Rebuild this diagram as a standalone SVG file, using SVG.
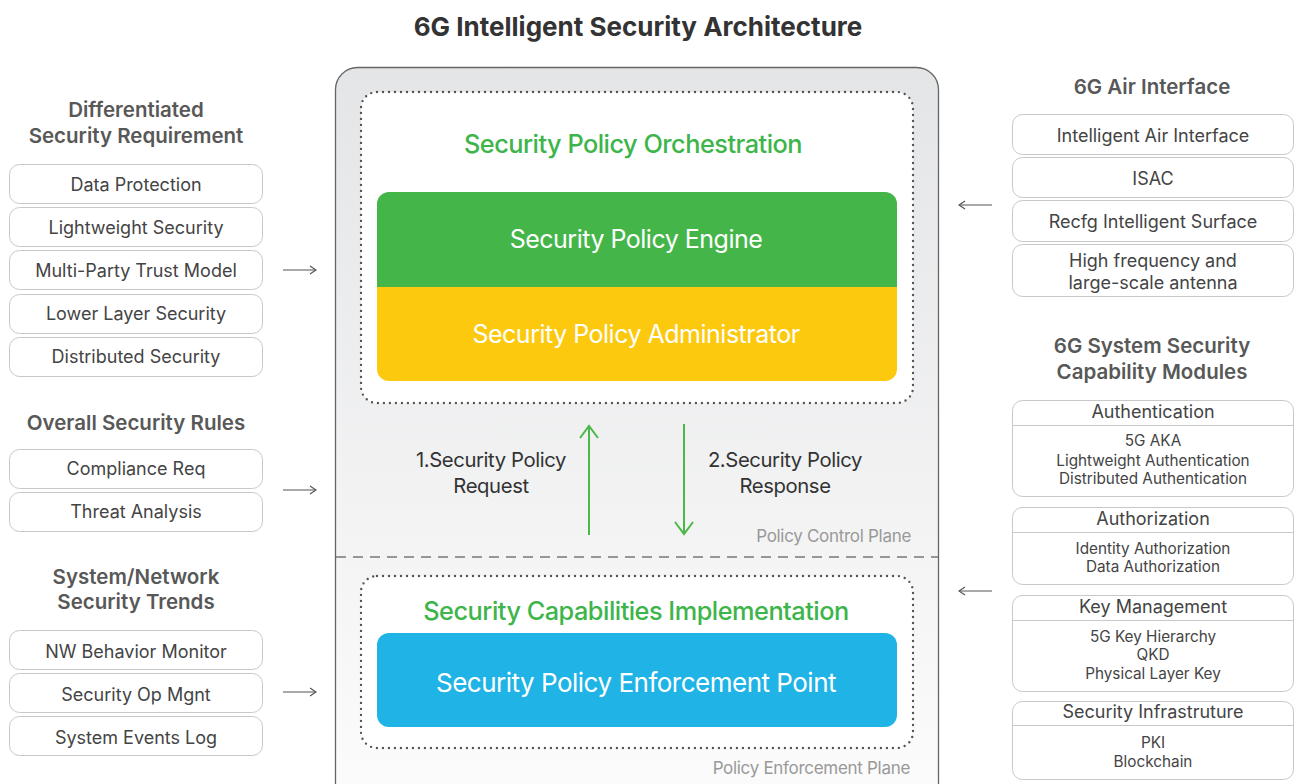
<svg xmlns="http://www.w3.org/2000/svg" width="1297" height="784" viewBox="0 0 1297 784">
<defs>
<linearGradient id="bg" x1="0" y1="0" x2="0" y2="1">
<stop offset="0" stop-color="#e4e5e7"/>
<stop offset="1" stop-color="#fcfcfc"/>
</linearGradient>
<marker id="ga" viewBox="0 0 20 20" refX="18" refY="10" markerWidth="20" markerHeight="20" markerUnits="userSpaceOnUse" orient="auto">
<path d="M6,1 L18,10 L6,19" fill="none" stroke="#4cb848" stroke-width="2"/>
</marker>
<marker id="ka" viewBox="0 0 12 12" refX="11" refY="6" markerWidth="12" markerHeight="12" markerUnits="userSpaceOnUse" orient="auto">
<path d="M5,2 L11,6 L5,10" fill="none" stroke="#555" stroke-width="1.2"/>
</marker>
</defs>
<style>
text{font-family:Inter,"Liberation Sans",sans-serif}
.title{font-size:26px;font-weight:700;fill:#333;text-anchor:middle}
.hd{font-size:20.5px;font-weight:600;fill:#585858;text-anchor:middle}
.it{font-size:18px;fill:#444;text-anchor:middle}
.sm{font-size:15.3px;fill:#444;text-anchor:middle}
.box{fill:#fff;stroke:#c8c8c8;stroke-width:1}
.dot{fill:#fff;stroke:#555;stroke-width:2.4;stroke-dasharray:0 6;stroke-linecap:round}
.gt{font-size:25.3px;font-weight:500;fill:#3db54a;text-anchor:middle;letter-spacing:-0.5px}
.wt{font-size:25px;fill:#fff;text-anchor:middle;letter-spacing:-0.5px}
.wt2{font-size:26px;fill:#fff;text-anchor:middle;letter-spacing:-0.5px}
.lbl{font-size:20.3px;fill:#333;text-anchor:middle;letter-spacing:-0.4px}
.pl{font-size:17px;fill:#999;text-anchor:end;letter-spacing:-0.3px}
.conn line{fill:none}
</style>
<text class="title" x="638" y="36">6G Intelligent Security Architecture</text>

<g id="main">
<rect x="335.5" y="67.5" width="603" height="740" rx="22" fill="url(#bg)" stroke="#666" stroke-width="1.3"/>
<line x1="336" y1="557" x2="938" y2="557" stroke="#777" stroke-width="1.6" stroke-dasharray="10 7"/>
<text class="pl" x="911" y="542">Policy Control Plane</text>
<text class="pl" x="910" y="774">Policy Enforcement Plane</text>
</g>

<g id="orchestration">
<rect class="dot" x="361" y="92" width="552" height="311" rx="16"/>
<text class="gt" x="633" y="153">Security Policy Orchestration</text>
</g>
<g id="engine">
<path d="M389,192 H885 A12,12 0 0 1 897,204 V287 H377 V204 A12,12 0 0 1 389,192 Z" fill="#44b649"/>
<text class="wt" x="636" y="248">Security Policy Engine</text>
</g>
<g id="administrator">
<path d="M377,287 H897 V369 A12,12 0 0 1 885,381 H389 A12,12 0 0 1 377,369 Z" fill="#fdc90e"/>
<text class="wt" x="636" y="343">Security Policy Administrator</text>
</g>
<g id="implementation">
<rect class="dot" x="361" y="576" width="552" height="172" rx="16"/>
<text class="gt" x="636" y="620">Security Capabilities Implementation</text>
</g>
<g id="pep">
<rect x="377" y="633" width="520" height="94" rx="12" fill="#1fb3e6"/>
<text class="wt2" x="636" y="692">Security Policy Enforcement Point</text>
</g>

<g id="connectors" class="conn">
<line x1="589" y1="535" x2="589" y2="426" stroke="#4cb848" stroke-width="2" marker-end="url(#ga)"/>
<line x1="684" y1="424" x2="684" y2="534" stroke="#4cb848" stroke-width="2" marker-end="url(#ga)"/>
<line x1="283" y1="270" x2="316" y2="270" stroke="#555" stroke-width="1.2" marker-end="url(#ka)"/>
<line x1="283" y1="490" x2="316" y2="490" stroke="#555" stroke-width="1.2" marker-end="url(#ka)"/>
<line x1="283" y1="692" x2="316" y2="692" stroke="#555" stroke-width="1.2" marker-end="url(#ka)"/>
<line x1="992" y1="205" x2="959" y2="205" stroke="#555" stroke-width="1.2" marker-end="url(#ka)"/>
<line x1="992" y1="591" x2="959" y2="591" stroke="#555" stroke-width="1.2" marker-end="url(#ka)"/>
<text class="lbl" x="491" y="467">1.Security Policy</text>
<text class="lbl" x="491" y="493">Request</text>
<text class="lbl" x="785" y="467">2.Security Policy</text>
<text class="lbl" x="785" y="493">Response</text>
</g>

<g id="diff-req">
<text class="hd" x="136" y="117">Differentiated</text>
<text class="hd" x="136" y="143">Security Requirement</text>
<rect class="box" x="9.5" y="164.5" width="253" height="39" rx="10"/>
<text class="it" x="136" y="191">Data Protection</text>
<rect class="box" x="9.5" y="207.5" width="253" height="39" rx="10"/>
<text class="it" x="136" y="234">Lightweight Security</text>
<rect class="box" x="9.5" y="250.5" width="253" height="39" rx="10"/>
<text class="it" x="136" y="277">Multi-Party Trust Model</text>
<rect class="box" x="9.5" y="294.5" width="253" height="39" rx="10"/>
<text class="it" x="136" y="320">Lower Layer Security</text>
<rect class="box" x="9.5" y="337.5" width="253" height="39" rx="10"/>
<text class="it" x="136" y="363">Distributed Security</text>
</g>

<g id="rules">
<text class="hd" x="136" y="430">Overall Security Rules</text>
<rect class="box" x="9.5" y="449.5" width="253" height="39" rx="10"/>
<text class="it" x="136" y="475">Compliance Req</text>
<rect class="box" x="9.5" y="492.5" width="253" height="39" rx="10"/>
<text class="it" x="136" y="518">Threat Analysis</text>
</g>

<g id="trends">
<text class="hd" x="136" y="584">System/Network</text>
<text class="hd" x="136" y="609">Security Trends</text>
<rect class="box" x="9.5" y="630.5" width="253" height="39" rx="10"/>
<text class="it" x="136" y="658">NW Behavior Monitor</text>
<rect class="box" x="9.5" y="673.5" width="253" height="39" rx="10"/>
<text class="it" x="136" y="701">Security Op Mgnt</text>
<rect class="box" x="9.5" y="716.5" width="253" height="39" rx="10"/>
<text class="it" x="136" y="744">System Events Log</text>
</g>

<g id="air">
<text class="hd" x="1152" y="94">6G Air Interface</text>
<rect class="box" x="1012.5" y="114.5" width="281" height="40" rx="10"/>
<text class="it" x="1153" y="142">Intelligent Air Interface</text>
<rect class="box" x="1012.5" y="157.5" width="281" height="40" rx="10"/>
<text class="it" x="1153" y="185">ISAC</text>
<rect class="box" x="1012.5" y="200.5" width="281" height="41" rx="10"/>
<text class="it" x="1153" y="228">Recfg Intelligent Surface</text>
<rect class="box" x="1012.5" y="244.5" width="281" height="52" rx="10"/>
<text class="it" x="1153" y="267">High frequency and</text>
<text class="it" x="1153" y="289">large-scale antenna</text>
</g>

<g id="modules">
<text class="hd" x="1152" y="353">6G System Security</text>
<text class="hd" x="1152" y="379">Capability Modules</text>
</g>
<g id="authn">
<rect class="box" x="1012.5" y="400.5" width="281" height="96" rx="10"/>
<line x1="1013" y1="425.5" x2="1293" y2="425.5" stroke="#c8c8c8"/>
<text class="it" x="1153" y="418">Authentication</text>
<text class="sm" x="1153" y="446">5G AKA</text>
<text class="sm" x="1153" y="466">Lightweight Authentication</text>
<text class="sm" x="1153" y="484">Distributed Authentication</text>
</g>
<g id="authz">
<rect class="box" x="1012.5" y="507.5" width="281" height="77" rx="10"/>
<line x1="1013" y1="532.5" x2="1293" y2="532.5" stroke="#c8c8c8"/>
<text class="it" x="1153" y="525">Authorization</text>
<text class="sm" x="1153" y="554">Identity Authorization</text>
<text class="sm" x="1153" y="572">Data Authorization</text>
</g>
<g id="keymgmt">
<rect class="box" x="1012.5" y="595.5" width="281" height="96" rx="10"/>
<line x1="1013" y1="620.5" x2="1293" y2="620.5" stroke="#c8c8c8"/>
<text class="it" x="1153" y="613">Key Management</text>
<text class="sm" x="1153" y="642">5G Key Hierarchy</text>
<text class="sm" x="1153" y="660">QKD</text>
<text class="sm" x="1153" y="679">Physical Layer Key</text>
</g>
<g id="infra">
<rect class="box" x="1012.5" y="701.5" width="281" height="78" rx="10"/>
<line x1="1013" y1="725.5" x2="1293" y2="725.5" stroke="#c8c8c8"/>
<text class="it" x="1153" y="718">Security Infrastruture</text>
<text class="sm" x="1153" y="748">PKI</text>
<text class="sm" x="1153" y="767">Blockchain</text>
</g>
</svg>
